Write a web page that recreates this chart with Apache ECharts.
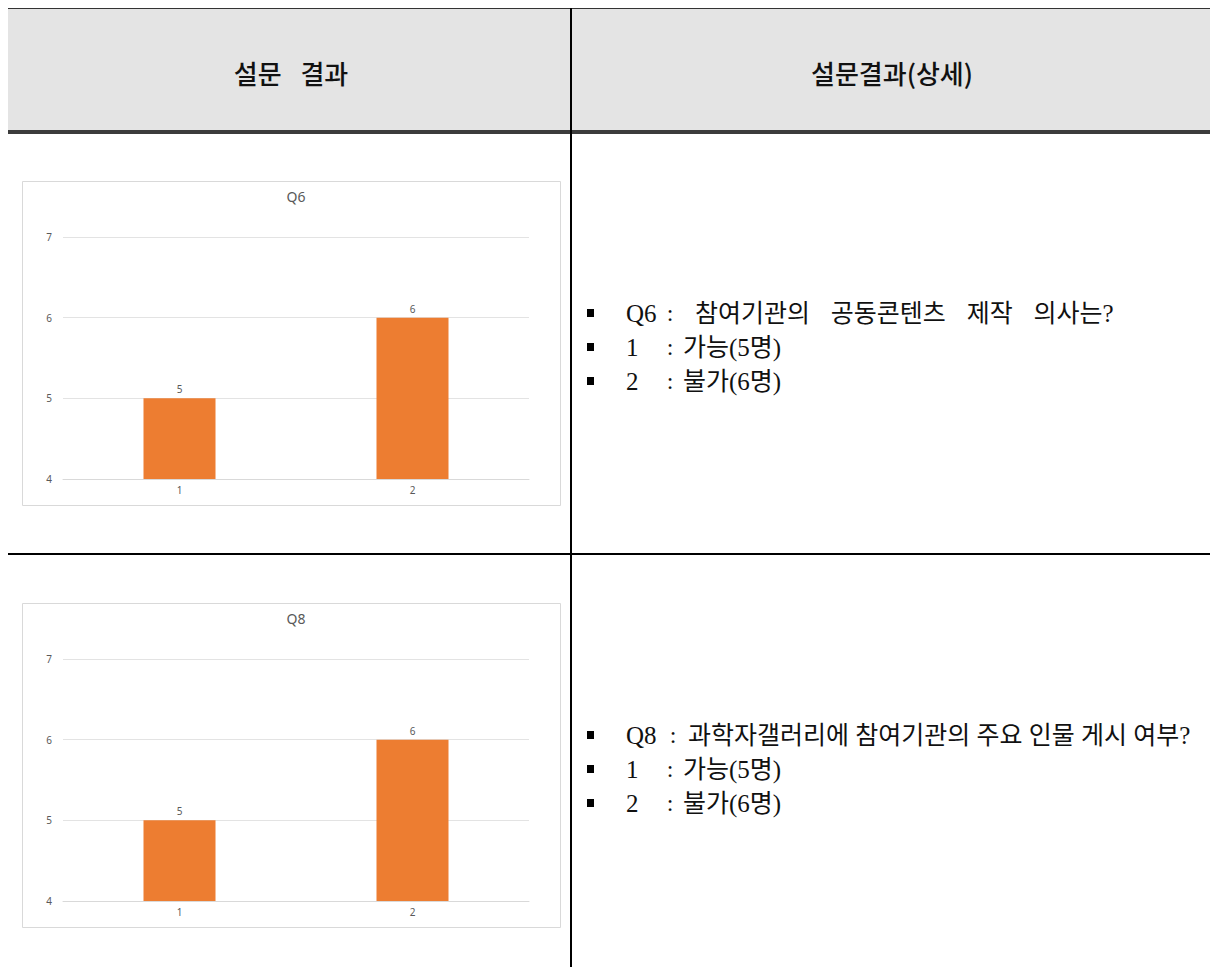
<!DOCTYPE html>
<html>
<head>
<meta charset="utf-8">
<script src="https://cdn.jsdelivr.net/npm/echarts@6/dist/echarts.min.js"></script>
<style>
html,body{margin:0;padding:0;background:#fff;}
#main{width:1210px;height:967px;}
</style>
</head>
<body>
<div id="main"></div>
<script>
const categories = ['1', '2'];
const q6Values = [5, 6];
const q8Values = [5, 6];
const yMin = 4, yMax = 7, yStep = 1;
const chartTitles = ['Q6', 'Q8'];
const headerTexts = ['설문\u2002\u00a0결과', '설문결과(상세)'];
// [label, content]
const detail1 = [
  ['Q6', '참여기관의\u2002\u00a0\u200a공동콘텐츠\u2002\u00a0\u200a제작\u2002\u00a0\u200a의사는?'],
  ['1', '가능(5명)'],
  ['2', '불가(6명)']
];
const detail2 = [
  ['Q8', '과학자갤러리에 참여기관의 주요 인물 게시 여부?'],
  ['1', '가능(5명)'],
  ['2', '불가(6명)']
];

const serif = '"Liberation Serif","Noto Sans CJK KR",serif';
const sans = '"Noto Sans","Noto Sans CJK KR",sans-serif';
const gray = '#595959';

const chart = echarts.init(document.getElementById('main'), null, {renderer: 'svg', width: 1210, height: 967});

function detailTexts(lines, y0, firstColonX, firstContentX) {
  const out = [];
  lines.forEach((ln, i) => {
    const y = y0 + i * 34;
    const colonX = i === 0 ? firstColonX : 670;
    const contentX = i === 0 ? firstContentX : 683;
    out.push({type: 'rect', shape: {x: 587, y: y - 4, width: 7, height: 8}, style: {fill: '#000'}, silent: true});
    out.push({type: 'text', x: 626, y: y, style: {text: ln[0], font: '400 25px ' + serif, fill: '#111', textVerticalAlign: 'middle', textAlign: 'left'}, silent: true});
    out.push({type: 'text', x: colonX, y: y, style: {text: ':', font: '400 24px ' + serif, fill: '#111', textVerticalAlign: 'middle', textAlign: 'center'}, silent: true});
    out.push({type: 'text', x: contentX, y: y, style: {text: ln[1], font: '400 25px ' + serif, fill: '#111', textVerticalAlign: 'middle', textAlign: 'left'}, silent: true});
  });
  return out;
}

const graphics = [
  {type: 'rect', shape: {x: 8, y: 8, width: 1202, height: 123}, style: {fill: '#e4e4e4'}, silent: true, z: -10},
  {type: 'line', shape: {x1: 8, y1: 8.5, x2: 1210, y2: 8.5}, style: {stroke: '#333', lineWidth: 1}, silent: true},
  {type: 'rect', shape: {x: 8, y: 130, width: 1202, height: 4}, style: {fill: '#3c3c3c'}, silent: true},
  {type: 'line', shape: {x1: 571, y1: 8, x2: 571, y2: 967}, style: {stroke: '#000', lineWidth: 2}, silent: true},
  {type: 'line', shape: {x1: 8, y1: 554, x2: 1210, y2: 554}, style: {stroke: '#000', lineWidth: 2}, silent: true},
  {type: 'text', x: 291, y: 72, style: {text: headerTexts[0], font: '500 26px "Noto Sans CJK KR",sans-serif', fill: '#111', textAlign: 'center', textVerticalAlign: 'middle'}, silent: true},
  {type: 'text', x: 892, y: 72, style: {text: headerTexts[1], font: '500 26px "Noto Sans CJK KR",sans-serif', fill: '#111', textAlign: 'center', textVerticalAlign: 'middle'}, silent: true},
  {type: 'rect', shape: {x: 22.5, y: 181.5, width: 538, height: 324}, style: {fill: 'none', stroke: '#d9d9d9', lineWidth: 1}, silent: true},
  {type: 'rect', shape: {x: 22.5, y: 603.5, width: 538, height: 324}, style: {fill: 'none', stroke: '#d9d9d9', lineWidth: 1}, silent: true}
].concat(detailTexts(detail1, 313, 670, 695), detailTexts(detail2, 735, 673, 688));

function grid(top) { return {left: 63, top: top, width: 466, height: 242, containLabel: false}; }
function xAx(i) {
  return {type: 'category', gridIndex: i, data: categories,
    axisLine: {show: true, lineStyle: {color: '#d9d9d9'}}, axisTick: {show: false},
    axisLabel: {color: gray, fontSize: 10, margin: 6, fontFamily: sans}};
}
function yAx(i) {
  return {type: 'value', gridIndex: i, min: yMin, max: yMax, interval: yStep,
    axisLine: {show: false}, axisTick: {show: false},
    axisLabel: {color: gray, fontSize: 10, margin: 11, fontFamily: sans},
    splitLine: {lineStyle: {color: '#e3e3e3'}}};
}
function bars(i, vals) {
  return {type: 'bar', xAxisIndex: i, yAxisIndex: i, data: vals, barWidth: 72,
    itemStyle: {color: '#ED7D31'},
    label: {show: true, position: 'top', distance: 4, color: gray, fontSize: 10, fontFamily: sans},
    silent: true};
}

chart.setOption({
  animation: false,
  title: [
    {text: chartTitles[0], left: 291, top: 184, textAlign: 'center', textStyle: {color: gray, fontSize: 14, fontWeight: 'normal', fontFamily: sans}},
    {text: chartTitles[1], left: 291, top: 606, textAlign: 'center', textStyle: {color: gray, fontSize: 14, fontWeight: 'normal', fontFamily: sans}}
  ],
  grid: [grid(237), grid(659)],
  xAxis: [xAx(0), xAx(1)],
  yAxis: [yAx(0), yAx(1)],
  series: [bars(0, q6Values), bars(1, q8Values)],
  graphic: graphics
});
</script>
</body>
</html>
